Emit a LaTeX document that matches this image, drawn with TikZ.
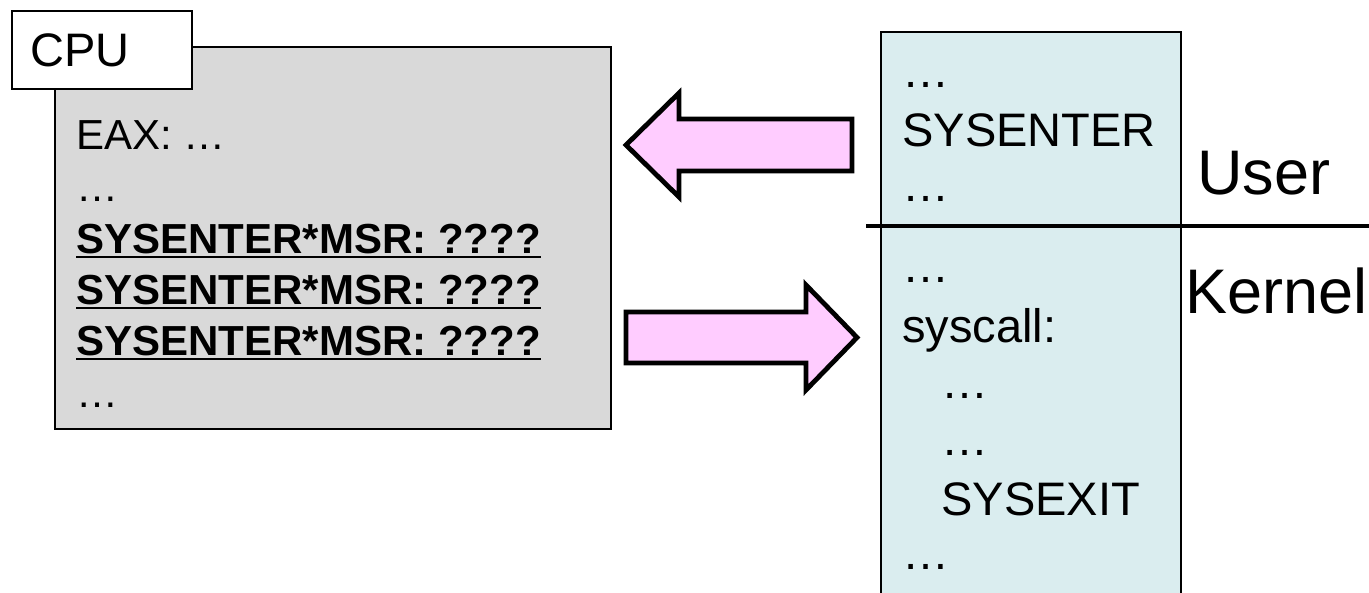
\documentclass[tikz,border=0pt]{standalone}
\usepackage{fontspec}
\setmainfont{Liberation Sans}
\definecolor{cpugray}{RGB}{217,217,217}
\definecolor{codeblue}{RGB}{218,237,239}
\definecolor{arrowpink}{RGB}{255,204,255}

\begin{document}
\begin{tikzpicture}[x=0.5pt,y=-0.5pt,line join=miter,
  reg/.style={inner sep=0pt, anchor=base west, font=\fontsize{21}{25}\selectfont},
  msr/.style={inner sep=0pt, anchor=base west, font=\fontsize{21}{25}\selectfont\bfseries},
  code/.style={inner sep=0pt, anchor=base west, font=\fontsize{23.5}{28}\selectfont},
  ring/.style={inner sep=0pt, anchor=base west, font=\fontsize{31.5}{38}\selectfont},
  uline/.style={line width=1.4pt},
  blockarrow/.style={fill=arrowpink, draw=black, line width=2.4pt}]

\useasboundingbox (0,0) rectangle (1369,593);

% register file of the CPU
\draw[fill=cpugray, line width=1.3pt] (55,47) rectangle (611,429);
\draw[fill=white, line width=1.3pt] (12,11) rectangle (192,89);
\node[inner sep=0pt, anchor=base west, font=\fontsize{23.5}{28}\selectfont] (cpu) at (30,67) {CPU};

\node[reg] (eax)  at (76,150) {EAX: …};
\node[reg] (dots1) at (76,202) {…};
\node[msr] (m1) at (76,253) {SYSENTER*MSR: ????};
\node[msr] (m2) at (76,304) {SYSENTER*MSR: ????};
\node[msr] (m3) at (76,355) {SYSENTER*MSR: ????};
\node[reg] (dots2) at (76,407) {…};
\foreach \m in {m1,m2,m3}
  \draw[uline] ([yshift=-2pt]\m.base west) -- ([yshift=-2pt]\m.base east);

% code listing, split into user and kernel part
\fill[codeblue] (881,32) rectangle (1181,593);
\draw[line width=1pt] (881,593) -- (881,32) -- (1181,32) -- (1181,593);

\node[code] (u1) at (902,88)  {…};
\node[code] (u2) at (902,147) {SYSENTER};
\node[code] (u3) at (902,202) {…};
\node[code] (k1) at (902,282) {…};
\node[code] (k2) at (902,342) {syscall:};
\node[code] (k3) at (941,398) {…};
\node[code] (k4) at (941,455) {…};
\node[code] (k5) at (941,515) {SYSEXIT};
\node[code] (k6) at (902,569) {…};

\coordinate (sepL) at (866,226);
\coordinate (sepR) at (1369,226);
\draw[line width=2pt] (sepL) -- (sepR);

\node[ring] (user)   at (1197,195) {User};
\node[ring] (kernel) at (1185,313) {Kernel};

% transfer arrows
\draw[blockarrow] (852,119) -- (679,119) -- (679,93) -- (626,145)
  -- (679,197) -- (679,171) -- (852,171) -- cycle;
\draw[blockarrow] (626,312) -- (806,312) -- (806,285) -- (857,337.5)
  -- (806,390) -- (806,363) -- (626,363) -- cycle;
\end{tikzpicture}
\end{document}
